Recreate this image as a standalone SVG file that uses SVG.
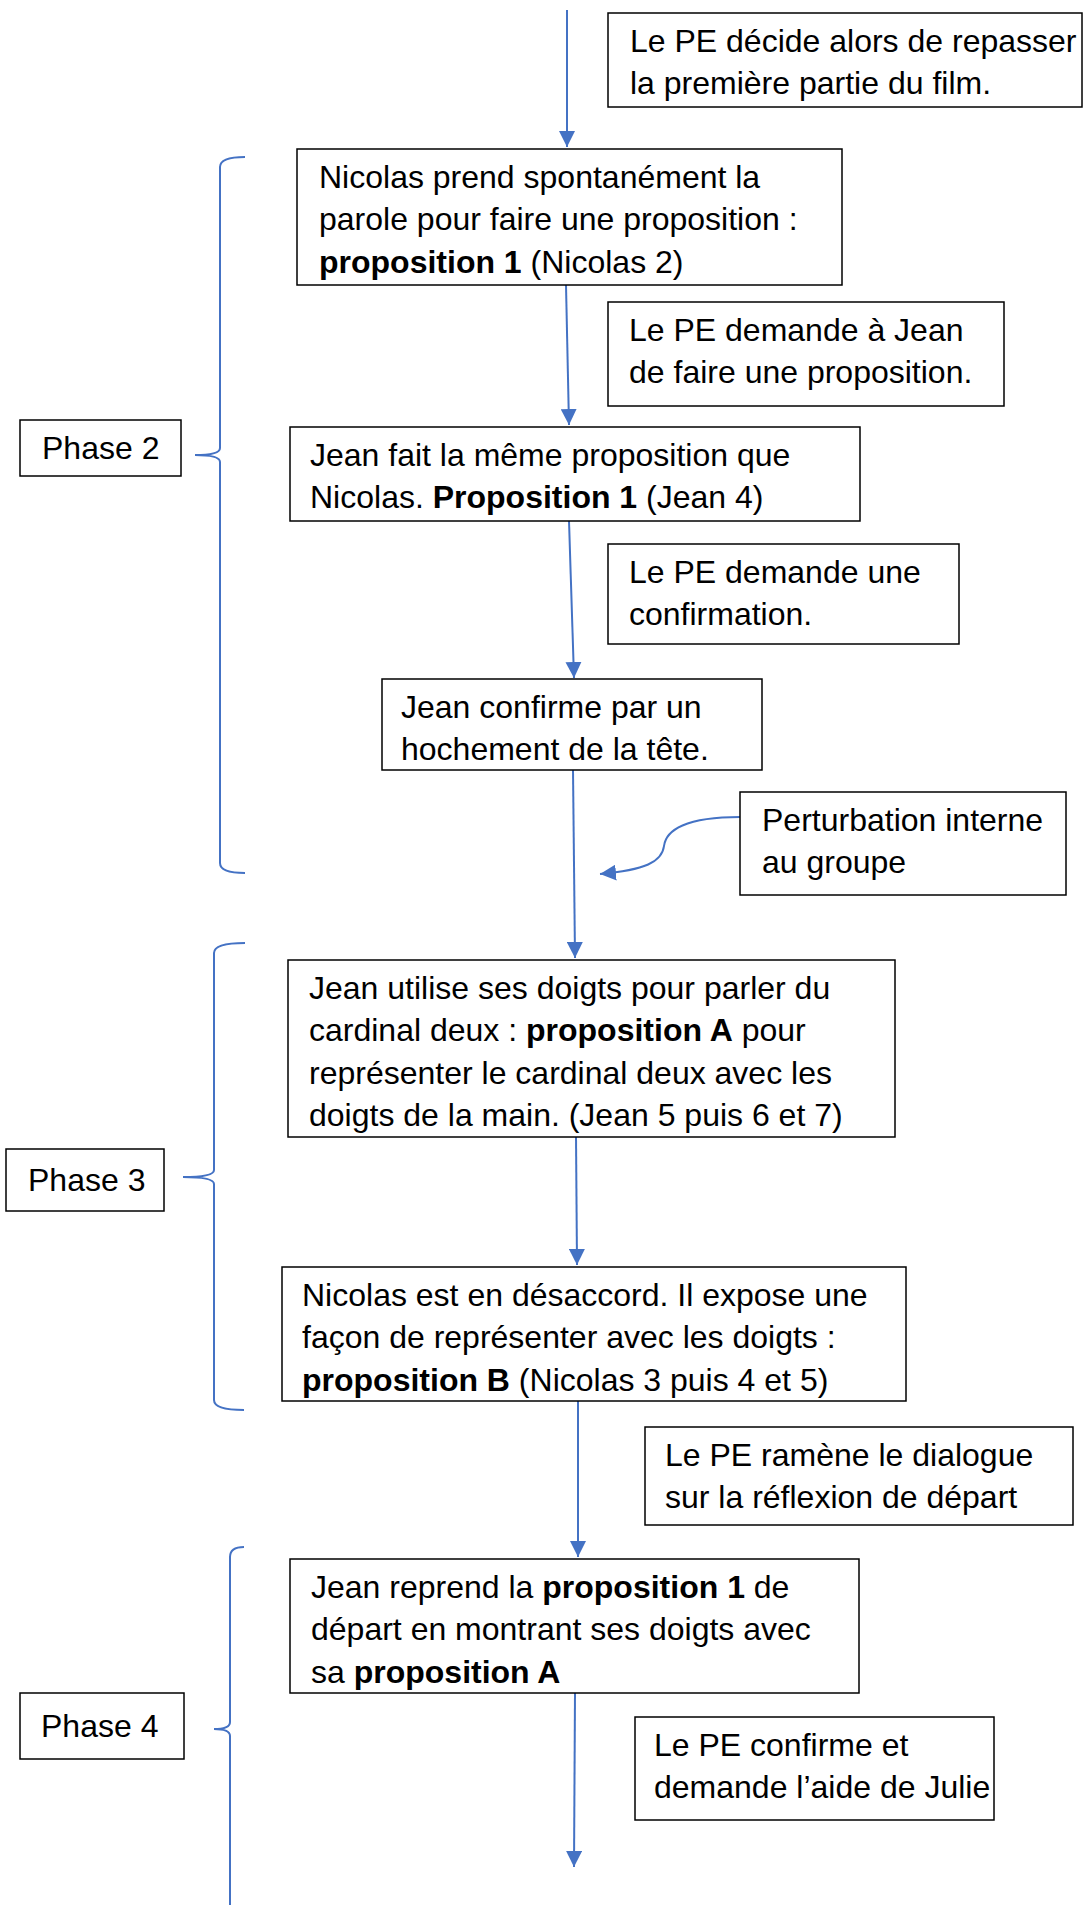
<svg xmlns="http://www.w3.org/2000/svg" width="1085" height="1905" viewBox="0 0 1085 1905">
<defs>
<style>
.box{fill:#fff;stroke:#000;stroke-width:1.5}
.t{font-family:"Liberation Sans",Arial,sans-serif;font-size:32px;fill:#000}
.b{font-weight:bold}
.c{fill:none;stroke:#4472C4;stroke-width:2}
</style>
<marker id="ah" markerUnits="userSpaceOnUse" markerWidth="16" markerHeight="16" refX="16" refY="8" orient="auto" viewBox="0 0 16 16">
<path d="M0,0 L16,8 L0,16 z" fill="#4472C4"/>
</marker>
</defs>
<rect width="1085" height="1905" fill="#fff"/>
<g id="connectors">
<path class="c" d="M567,10 L567,147" marker-end="url(#ah)"/>
<path class="c" d="M566,285 L569,425" marker-end="url(#ah)"/>
<path class="c" d="M569,521 L574,678" marker-end="url(#ah)"/>
<path class="c" d="M573,770 L575,958" marker-end="url(#ah)"/>
<path class="c" d="M576,1137 L577,1265" marker-end="url(#ah)"/>
<path class="c" d="M578,1401 L578,1557" marker-end="url(#ah)"/>
<path class="c" d="M575,1693 L574,1867" marker-end="url(#ah)"/>
<path class="c" d="M740,817 C686,817 666,830 664,846 C662,862 645,870 600,874" marker-end="url(#ah)"/>
</g>
<g id="braces">
<path class="c" d="M245,157 Q220,157 220,167 L220,448 Q220,455 195,455 Q220,455 220,462 L220,863 Q220,873 245,873"/>
<path class="c" d="M245,943 Q214,943 214,953 L214,1170 Q214,1177 183,1177 Q214,1177 214,1184 L214,1400 Q214,1410 244,1410"/>
<path class="c" d="M244,1547 Q230,1547 230,1557 L230,1722 Q230,1729 214,1729 Q230,1729 230,1736 L230,1910"/>
</g>
<g id="n-a">
<rect class="box" x="608" y="13" width="474" height="94"/>
<text class="t" x="630" y="52">Le PE décide alors de repasser</text>
<text class="t" x="630" y="94">la première partie du film.</text>
</g>
<g id="n-b">
<rect class="box" x="297" y="149" width="545" height="136"/>
<text class="t" x="319" y="188">Nicolas prend spontanément la</text>
<text class="t" x="319" y="230">parole pour faire une proposition :</text>
<text class="t" x="319" y="273"><tspan class="b">proposition 1</tspan> (Nicolas 2)</text>
</g>
<g id="n-pe2">
<rect class="box" x="608" y="302" width="396" height="104"/>
<text class="t" x="629" y="341">Le PE demande à Jean</text>
<text class="t" x="629" y="383">de faire une proposition.</text>
</g>
<g id="n-c">
<rect class="box" x="290" y="427" width="570" height="94"/>
<text class="t" x="310" y="466">Jean fait la même proposition que</text>
<text class="t" x="310" y="508">Nicolas. <tspan class="b">Proposition 1</tspan> (Jean 4)</text>
</g>
<g id="n-pe3">
<rect class="box" x="608" y="544" width="351" height="100"/>
<text class="t" x="629" y="583">Le PE demande une</text>
<text class="t" x="629" y="625">confirmation.</text>
</g>
<g id="n-d">
<rect class="box" x="382" y="679" width="380" height="91"/>
<text class="t" x="401" y="718">Jean confirme par un</text>
<text class="t" x="401" y="760">hochement de la tête.</text>
</g>
<g id="n-pert">
<rect class="box" x="740" y="792" width="326" height="103"/>
<text class="t" x="762" y="831">Perturbation interne</text>
<text class="t" x="762" y="873">au groupe</text>
</g>
<g id="n-e">
<rect class="box" x="288" y="960" width="607" height="177"/>
<text class="t" x="309" y="999">Jean utilise ses doigts pour parler du</text>
<text class="t" x="309" y="1041">cardinal deux : <tspan class="b">proposition A</tspan> pour</text>
<text class="t" x="309" y="1084">représenter le cardinal deux avec les</text>
<text class="t" x="309" y="1126">doigts de la main. (Jean 5 puis 6 et 7)</text>
</g>
<g id="n-f">
<rect class="box" x="282" y="1267" width="624" height="134"/>
<text class="t" x="302" y="1306">Nicolas est en désaccord. Il expose une</text>
<text class="t" x="302" y="1348">façon de représenter avec les doigts :</text>
<text class="t" x="302" y="1391"><tspan class="b">proposition B</tspan> (Nicolas 3 puis 4 et 5)</text>
</g>
<g id="n-pe4">
<rect class="box" x="645" y="1427" width="428" height="98"/>
<text class="t" x="665" y="1466">Le PE ramène le dialogue</text>
<text class="t" x="665" y="1508">sur la réflexion de départ</text>
</g>
<g id="n-g">
<rect class="box" x="290" y="1559" width="569" height="134"/>
<text class="t" x="311" y="1598">Jean reprend la <tspan class="b">proposition 1</tspan> de</text>
<text class="t" x="311" y="1640">départ en montrant ses doigts avec</text>
<text class="t" x="311" y="1683">sa <tspan class="b">proposition A</tspan></text>
</g>
<g id="n-pe5">
<rect class="box" x="635" y="1717" width="359" height="103"/>
<text class="t" x="654" y="1756">Le PE confirme et</text>
<text class="t" x="654" y="1798">demande l’aide de Julie</text>
</g>
<g id="phase2">
<rect class="box" x="20" y="420" width="161" height="56"/>
<text class="t" x="42" y="459">Phase 2</text>
</g>
<g id="phase3">
<rect class="box" x="6" y="1149" width="158" height="62"/>
<text class="t" x="28" y="1191">Phase 3</text>
</g>
<g id="phase4">
<rect class="box" x="20" y="1693" width="164" height="66"/>
<text class="t" x="41" y="1737">Phase 4</text>
</g>
</svg>
